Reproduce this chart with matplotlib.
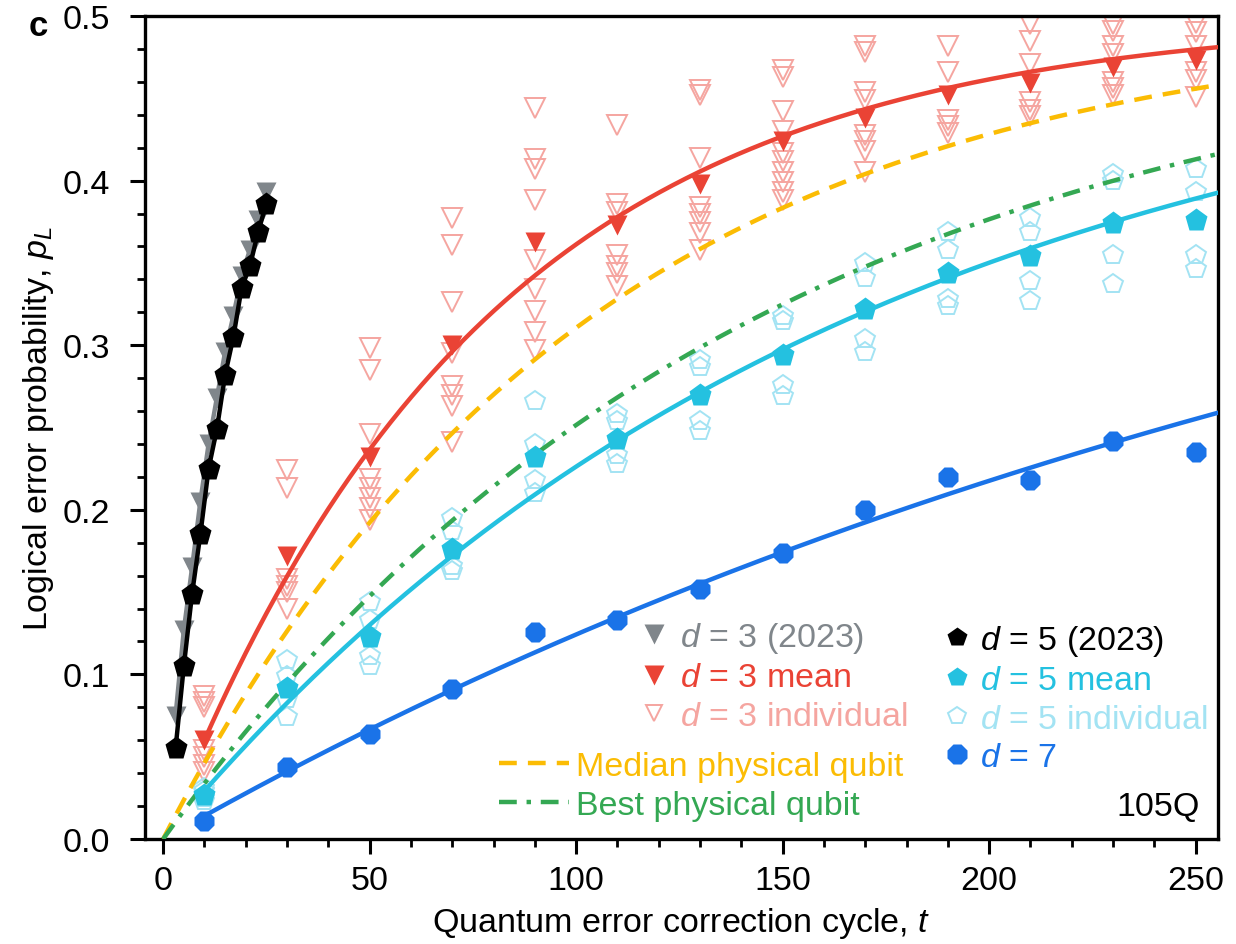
import numpy as np
import matplotlib
matplotlib.use("Agg")
import matplotlib.pyplot as plt
from matplotlib.lines import Line2D

plt.rcParams['font.family'] = ['Liberation Sans', 'DejaVu Sans']
plt.rcParams['mathtext.fontset'] = 'custom'
plt.rcParams['mathtext.rm'] = 'Liberation Sans'
plt.rcParams['mathtext.it'] = 'Liberation Sans:italic'

# ---- data ----
t_2023 = [3, 5, 7, 9, 11, 13, 15, 17, 19, 21, 23, 25]
d3_2023 = [0.075, 0.127, 0.165, 0.205, 0.240, 0.268, 0.296, 0.318, 0.342, 0.358, 0.376, 0.393]
d5_2023 = [0.055, 0.105, 0.149, 0.185, 0.225, 0.249, 0.282, 0.305, 0.335, 0.348, 0.369, 0.386]

t_cycles = [10, 30, 50, 70, 90, 110, 130, 150, 170, 190, 210, 230, 250]
d3_mean = [0.060, 0.172, 0.232, 0.300, 0.363, 0.373, 0.398, 0.424, 0.438, 0.452, 0.459, 0.469, 0.473]
d5_mean = [0.027, 0.092, 0.123, 0.176, 0.232, 0.243, 0.270, 0.294, 0.322, 0.344, 0.354, 0.374, 0.376]
d7 = [0.011, 0.044, 0.064, 0.091, 0.126, 0.133, 0.152, 0.174, 0.200, 0.220, 0.218, 0.242, 0.235]

d3_indiv = [
    [0.087, 0.083, 0.080, 0.054, 0.050, 0.045, 0.041],
    [0.224, 0.213, 0.158, 0.154, 0.150, 0.140],
    [0.298, 0.285, 0.246, 0.219, 0.213, 0.207, 0.201, 0.194],
    [0.377, 0.361, 0.326, 0.295, 0.275, 0.270, 0.263, 0.241],
    [0.444, 0.413, 0.407, 0.388, 0.352, 0.334, 0.321, 0.308, 0.297],
    [0.434, 0.386, 0.381, 0.355, 0.348, 0.344, 0.336],
    [0.455, 0.452, 0.414, 0.384, 0.380, 0.375, 0.368, 0.358],
    [0.467, 0.463, 0.442, 0.430, 0.417, 0.412, 0.405, 0.399, 0.393, 0.388],
    [0.482, 0.478, 0.454, 0.449, 0.428, 0.424, 0.418, 0.405],
    [0.482, 0.466, 0.437, 0.433, 0.429],
    [0.495, 0.485, 0.471, 0.448, 0.443, 0.439],
    [0.495, 0.491, 0.482, 0.477, 0.460, 0.456, 0.452],
    [0.496, 0.490, 0.482, 0.466, 0.461, 0.451],
]
d5_indiv = [
    [0.031, 0.029, 0.025, 0.023],
    [0.109, 0.099, 0.085, 0.074],
    [0.144, 0.133, 0.111, 0.105],
    [0.195, 0.187, 0.166, 0.163],
    [0.266, 0.240, 0.218, 0.210],
    [0.258, 0.254, 0.233, 0.228],
    [0.291, 0.287, 0.254, 0.248],
    [0.318, 0.315, 0.276, 0.269],
    [0.350, 0.341, 0.304, 0.296],
    [0.369, 0.358, 0.328, 0.324],
    [0.377, 0.369, 0.339, 0.327],
    [0.404, 0.400, 0.355, 0.337],
    [0.407, 0.393, 0.355, 0.346],
]

# decay constants (cycles) of the fitted curves p = (1 - exp(-t/tau)) / 2
tau_d3, tau_d5, tau_d7 = 78, 166, 350
tau_median, tau_best = 103, 143

RED = '#EA4335'
LRED = '#F5A5A0'
GREY = '#80868B'
ORANGE = '#FBBC04'
GREEN = '#34A853'
CYAN = '#24C1E0'
LCYAN = '#A3E3F3'
BLUE = '#1A73E8'


def decay(t, tau):
    return 0.5 * (1 - np.exp(-t / tau))


fig = plt.figure(figsize=(12.36, 9.45), dpi=100)
ax = fig.add_axes([145 / 1236, 1 - 840 / 945, (1218 - 145) / 1236, (840 - 17) / 945])

# individual points
for t, vals in zip(t_cycles, d3_indiv):
    ax.plot([t] * len(vals), vals, 'v', ms=14, mfc='none', mec=LRED, mew=1.4, zorder=2)
for t, vals in zip(t_cycles, d5_indiv):
    ax.plot([t] * len(vals), vals, 'p', ms=15, mfc='none', mec=LCYAN, mew=1.4, zorder=2)

# physical qubit curves
tt0 = np.linspace(0, 260, 400)
ax.plot(tt0, decay(tt0, tau_median), color=ORANGE, lw=3.2, dashes=(4, 2.5), zorder=3)
ax.plot(tt0, decay(tt0, tau_best), color=GREEN, lw=3.2, dashes=(4, 2.2, 1, 2.2), zorder=3)

# fits
tt = np.linspace(10, 260, 400)
ax.plot(tt, decay(tt, tau_d3), color=RED, lw=3.2, zorder=4)
ax.plot(tt, decay(tt, tau_d5), color=CYAN, lw=3.2, zorder=4)
ax.plot(tt, decay(tt, tau_d7), color=BLUE, lw=3.2, zorder=4)

# means
ax.plot(t_cycles, d3_mean, 'v', ms=15, color=RED, mec='none', zorder=5)
ax.plot(t_cycles, d5_mean, 'p', ms=17, color=CYAN, mec='none', zorder=5)
ax.plot(t_cycles, d7, '8', ms=16, color=BLUE, mec='none', zorder=5)

# 2023 data
ax.plot(t_2023, d3_2023, '-v', color=GREY, lw=3.2, ms=14, mec='none', zorder=5)
ax.plot(t_2023, d5_2023, '-p', color='black', lw=3.2, ms=17, mec='none', zorder=6)

ax.set_xlim(-4.4, 255.4)
ax.set_ylim(0, 0.5)
ax.set_xticks(np.arange(0, 251, 50))
ax.set_xticks(np.arange(0, 256, 10), minor=True)
ax.set_yticks(np.arange(0, 0.51, 0.1))
ax.set_yticks(np.arange(0, 0.501, 0.02), minor=True)
ax.set_yticklabels(['0.0', '0.1', '0.2', '0.3', '0.4', '0.5'])
ax.tick_params(which='major', direction='out', length=11, width=2.2, labelsize=24.5, pad=8)
ax.tick_params(which='minor', direction='out', length=6, width=2.0)
ax.tick_params(axis='y', which='major', pad=14)
for s in ax.spines.values():
    s.set_linewidth(2.4)

ax.set_xlabel('Quantum error correction cycle, $t$', fontsize=24.5, labelpad=6)
ax.set_ylabel('Logical error probability, $p_L$', fontsize=24.5, labelpad=5)

fig.text(38 / 1236, 1 - 26 / 945, 'c', fontsize=25, fontweight='bold', va='center', ha='center')


def axpt(px, py):
    return ((px - 145) / (1218 - 145), (840 - py) / (840 - 17))


# legends
hA = [Line2D([], [], ls='none', marker='v', ms=14, color=GREY, mec='none'),
      Line2D([], [], ls='none', marker='v', ms=14, color=RED, mec='none'),
      Line2D([], [], ls='none', marker='v', ms=12, mfc='none', mec=LRED, mew=1.4)]
lA = ['$d$ = 3 (2023)', '$d$ = 3 mean', '$d$ = 3 individual']
cA = [GREY, RED, LRED]
hB = [Line2D([], [], color=ORANGE, lw=3.2, dashes=(4, 2.5)),
      Line2D([], [], color=GREEN, lw=3.2, dashes=(4, 2.2, 1, 2.2))]
lB = ['Median physical qubit', 'Best physical qubit']
cB = [ORANGE, GREEN]
hC = [Line2D([], [], ls='none', marker='p', ms=15, color='black', mec='none'),
      Line2D([], [], ls='none', marker='p', ms=15, color=CYAN, mec='none'),
      Line2D([], [], ls='none', marker='p', ms=13, mfc='none', mec=LCYAN, mew=1.4),
      Line2D([], [], ls='none', marker='8', ms=15, color=BLUE, mec='none')]
lC = ['$d$ = 5 (2023)', '$d$ = 5 mean', '$d$ = 5 individual', '$d$ = 7']
cC = ['black', CYAN, LCYAN, BLUE]

common = dict(frameon=False, fontsize=24.5, borderpad=0, borderaxespad=0,
              labelspacing=0.22, loc='center left')
legA = ax.legend(hA, lA, bbox_to_anchor=axpt(637, 677), handlelength=1.0,
                 handletextpad=0.25, **common)
for txt, c in zip(legA.get_texts(), cA):
    txt.set_color(c)
ax.add_artist(legA)
legB = ax.legend(hB, lB, bbox_to_anchor=axpt(499, 787), handlelength=2.05,
                 handletextpad=0.2, **common)
for txt, c in zip(legB.get_texts(), cB):
    txt.set_color(c)
ax.add_artist(legB)
legC = ax.legend(hC, lC, bbox_to_anchor=axpt(943, 699), handlelength=0.8,
                 handletextpad=0.3, **common)
for txt, c in zip(legC.get_texts(), cC):
    txt.set_color(c)

ax.text(*axpt(1200, 808), '105Q', transform=ax.transAxes, fontsize=24.5,
        ha='right', va='center')

fig.savefig('out.png', dpi=100)
